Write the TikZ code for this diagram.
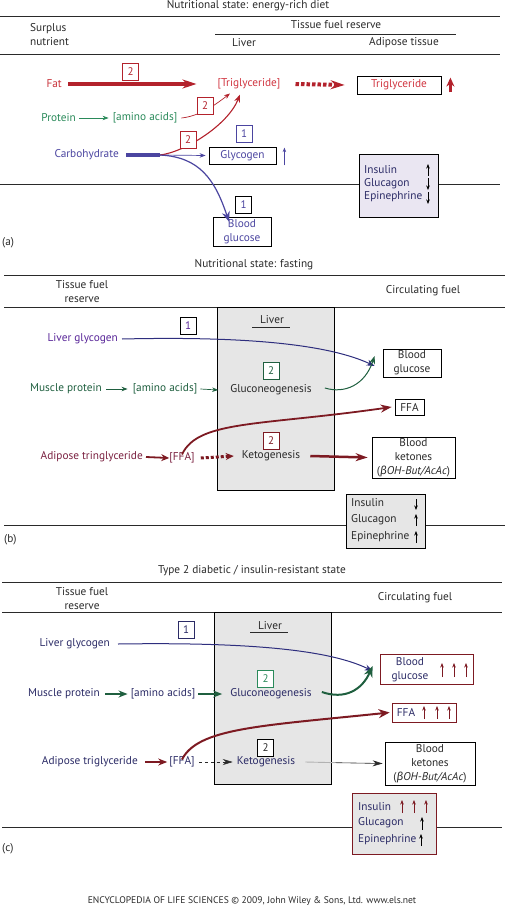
\documentclass[tikz,border=0pt]{standalone}
\usepackage{fontspec}
\setmainfont{PT Sans}
\newfontfamily\grk{Fira Sans}
\usetikzlibrary{arrows.meta,calc}
\definecolor{fatred}{HTML}{C8323A}
\definecolor{arred}{HTML}{B3222C}
\definecolor{tgred}{HTML}{D03540}
\definecolor{agreen}{HTML}{2A8A5A}
\definecolor{cblue}{HTML}{4B45A0}
\definecolor{navy}{HTML}{2B2B66}
\definecolor{bnavy}{HTML}{2E2E7E}
\definecolor{dgreen}{HTML}{1F5F3F}
\definecolor{dred}{HTML}{7D1A22}
\definecolor{maroon}{HTML}{7A2040}
\definecolor{lav}{HTML}{EAE6F2}
\definecolor{lgrey}{HTML}{E6E6E6}
\definecolor{txtc}{HTML}{2A2A2A}
\tikzset{
 txt/.style={inner sep=0pt, text=txtc, font=\fontsize{11.3}{13.5}\selectfont, align=center},
 numbox/.style={draw, fill=white, line width=0.7pt, minimum width=16pt, minimum height=17pt, inner sep=0pt, font=\fontsize{11}{12}\selectfont},
 fbox/.style={draw, line width=0.8pt, inner sep=0pt, align=center, text=txtc, font=\fontsize{11.3}{14}\selectfont},
 rule/.style={line width=0.8pt, txtc},
 ind/.style={-{Stealth[length=4.5pt,width=3.5pt]}, line width=0.6pt},
 thin arr/.style={-{Stealth[length=6pt,width=4.5pt]}, line width=0.7pt},
 mid arr/.style={-{Stealth[length=9pt,width=7pt]}, line width=2pt},
 big arr/.style={-{Stealth[length=14pt,width=9pt]}, line width=4.5pt},
}
\begin{document}
\begin{tikzpicture}[x=1pt,y=-1pt]
\useasboundingbox (0,0) rectangle (505,907);
% ================= panel (a)
\node[txt] (ta) at (248,6) {Nutritional state: energy-rich diet};
\draw[rule] (0,16) -- (500,16);
\node[txt, anchor=west, align=left] (surplus) at (30,34.5) {Surplus\\nutrient};
\node[txt] (tfr) at (336,25) {Tissue fuel reserve};
\draw[rule] (215,34) -- (456,34);
\node[txt] (liverA) at (244,43) {Liver};
\node[txt] (adipA) at (404,43) {Adipose tissue};
\draw[rule] (0,54) -- (500,54);
\draw[rule] (0,184) -- (500,184);

\node[txt, text=fatred, anchor=east] (fat) at (62,84) {Fat};
\node[txt, text=tgred] (tgl) at (249,84) {[Triglyceride]};
\node[fbox, text=tgred, minimum width=84pt, minimum height=18pt] (tgA) at (399,85) {Triglyceride};
\draw[big arr, arred] ([xshift=6pt]fat.east) -- ([xshift=-21pt]tgl.west);
\node[numbox, draw=arred, text=arred] (n2fat) at (130.5,71.5) {2};
\draw[big arr, arred, line width=4pt, dash pattern=on 3.5pt off 2pt] ([xshift=15pt]tgl.east) -- ([xshift=-12pt]tgA.west);
\draw[arred, line width=2.6pt, -{Stealth[length=9pt,width=8pt]}] ([xshift=9pt,yshift=2pt]tgA.south east) -- ([xshift=9pt,yshift=-2pt]tgA.north east);

\node[txt, text=agreen, anchor=east] (prot) at (76,118) {Protein};
\node[txt, text=agreen] (aaA) at (145,118) {[amino acids]};
\draw[thin arr, agreen, line width=0.6pt] ([xshift=3pt]prot.east) -- ([xshift=-4pt]aaA.west);
\coordinate (tip1) at ($(tgl.south)+(-19,4)$);
\draw[thin arr, arred] ([xshift=4pt]aaA.east) .. controls (200,116) and (215,105) .. (tip1);
\node[numbox, draw=arred, text=arred] (n2aa) at (205,106) {2};

\node[txt, text=cblue, anchor=east] (carb) at (119,155) {Carbohydrate};
\coordinate (split) at (160,155);
\draw[cblue, line width=4pt] ([xshift=7pt]carb.east) -- (split);
\node[fbox, text=cblue, minimum width=67pt, minimum height=17pt] (glyc) at (242.5,155.5) {Glycogen};
\node[numbox, draw=cblue, text=cblue] (n1g) at (244,133.5) {1};
\draw[thin arr, cblue] (split) -- ([xshift=-3pt]glyc.west);
\draw[ind, cblue, line width=0.7pt] ([xshift=8pt,yshift=-1pt]glyc.south east) -- ([xshift=8pt,yshift=-1pt]glyc.north east);
\coordinate (tip2) at ($(tgl.south)+(-9,5)$);
\draw[arred, line width=1.1pt, -{Stealth[length=8pt,width=6pt]}] (split) .. controls (185,152) and (228,125) .. (tip2);
\node[numbox, draw=arred, text=arred] (n2c) at (188,139.5) {2};
\node[fbox, text=cblue, minimum width=58pt, minimum height=29pt] (bgA) at (242,231.5) {Blood\\glucose};
\node[numbox, text=cblue] (n1b) at (243.5,204.5) {1};
\draw[cblue, line width=1.2pt, -{Stealth[length=10pt,width=8pt]}] (split) .. controls (200,157) and (215,180) .. ([xshift=-13pt,yshift=-5pt]bgA.north);

\node[draw, line width=0.8pt, fill=lav, minimum width=79pt, minimum height=63pt] (hA) at (398.5,185.5) {};
\node[txt, text=navy, anchor=west] (insA) at (364,170) {Insulin};
\node[txt, text=navy, anchor=west] (glcA) at (364,183.5) {Glucagon};
\node[txt, text=navy, anchor=west] (epiA) at (364,197) {Epinephrine};
\draw[ind] (428,176) -- (428,164);
\draw[ind] (428,178) -- (428,190);
\draw[ind] (428,192) -- (428,204);
\node[txt, anchor=west] (la) at (2,243) {(a)};

% ================= panel (b)
\node[txt] (tb) at (254,265) {Nutritional state: fasting};
\draw[rule] (4,275) -- (505,275);
\node[txt] (tfrB) at (82,291.5) {Tissue fuel\\reserve};
\node[txt] (cfB) at (423,291) {Circulating fuel};
\draw[rule] (4,307) -- (505,307);
\draw[rule] (4,525) -- (505,525);
\node[draw, line width=0.8pt, fill=lgrey, minimum width=117pt, minimum height=183pt] (liverB) at (275.5,398.5) {};
\node[txt] (lvB) at (272,320) {Liver};
\draw[rule] (252,327) -- (290,327);

\node[txt, text=bnavy!80!magenta, anchor=east] (lgB) at (118,339) {Liver glycogen};
\node[fbox, minimum width=58pt, minimum height=28pt] (bgB) at (412,363) {Blood\\glucose};
\draw[bnavy, line width=1pt, -{Stealth[length=8pt,width=6pt]}] ([xshift=4pt]lgB.east) .. controls (250,336) and (330,345) .. ([xshift=-8pt,yshift=-3pt]bgB.west);
\node[numbox, text=bnavy!80!magenta] (n1B) at (188,325.5) {1};

\node[txt, text=dgreen, anchor=east] (mpB) at (102,389) {Muscle protein};
\node[txt, text=dgreen] (aaB) at (165,389) {[amino acids]};
\node[txt] (gngB) at (271,390) {Gluconeogenesis};
\draw[thin arr, dgreen] ([xshift=4pt]mpB.east) -- ([xshift=-5pt]aaB.west);
\draw[thin arr, dgreen] ([xshift=3pt]aaB.east) -- ([xshift=-12pt]gngB.west);
\node[numbox, draw=dgreen, text=dgreen] (n2B) at (271,371) {2};
\draw[dgreen, line width=1pt, -{Stealth[length=8pt,width=6pt]}] ([xshift=13pt,yshift=2pt]gngB.east) .. controls (345,394) and (365,385) .. ([xshift=-8pt,yshift=7pt]bgB.west);

\node[fbox, minimum width=29pt, minimum height=16pt] (ffaB) at (409.5,407) {FFA};
\node[txt, text=maroon, anchor=east] (atB) at (143,457) {Adipose tringlyceride};
\node[txt, text=maroon] (ffB) at (182,458) {[FFA]};
\node[txt] (ketB) at (271,456) {Ketogenesis};
\node[numbox, draw=dred, text=dred] (n2kB) at (271,440.5) {2};
\draw[dred, line width=1.8pt, -{Stealth[length=8pt,width=7pt]}] ([xshift=3pt]atB.east) -- (ffB.west);
\draw[dred, line width=3pt, dash pattern=on 3pt off 2pt, -{Stealth[length=8pt,width=7pt]}] ([xshift=6pt]ffB.east) -- ([xshift=-8pt]ketB.west);
\draw[dred, line width=1.8pt, -{Stealth[length=11pt,width=8pt]}] ([yshift=-2pt]ffB.north) .. controls (198,420) and (260,426) .. ([xshift=-3pt]ffaB.west);
\node[fbox, minimum width=83pt, minimum height=41pt] (bkB) at (413.5,457.5) {Blood\\ketones\\(\textit{{\grk β}OH-But/AcAc})};
\draw[dred, line width=2.5pt, -{Stealth[length=12pt,width=8pt]}] ([xshift=10pt]ketB.east) -- ([xshift=-4pt]bkB.west);

\node[draw, line width=0.8pt, fill=lgrey, minimum width=79pt, minimum height=54pt] (hB) at (385.5,521) {};
\node[txt, anchor=west] (insB) at (351,503) {Insulin};
\node[txt, anchor=west] (glcB) at (351,520) {Glucagon};
\node[txt, anchor=west] (epiB) at (351,537) {Epinephrine};
\draw[ind] (416,499) -- (416,510);
\draw[ind] (416,526) -- (416,514);
\draw[ind] (416,543) -- (416,531);
\node[txt, anchor=west] (lb) at (4,540) {(b)};

% ================= panel (c)
\node[txt] (tc) at (252,571) {Type 2 diabetic / insulin-resistant state};
\draw[rule] (2,582) -- (502,582);
\node[txt] (tfrC) at (82,598.5) {Tissue fuel\\reserve};
\node[txt] (cfC) at (415,598) {Circulating fuel};
\draw[rule] (2,612) -- (502,612);
\draw[rule] (2,827) -- (502,827);
\node[draw, line width=0.8pt, fill=lgrey, minimum width=117pt, minimum height=172pt] (liverC) at (272.5,698) {};
\node[txt] (lvC) at (270,626) {Liver};
\draw[rule] (250,632) -- (288,632);

\node[txt, text=navy, anchor=east] (lgC) at (110,644) {Liver glycogen};
\node[fbox, draw=dred, minimum width=93pt, minimum height=30pt] (bgC) at (426.5,669) {};
\node[txt, text=navy] (bgCt) at (410,669.5) {Blood\\glucose};
\draw[ind, dred] (442,677) -- (442,663);
\draw[ind, dred] (454,677) -- (454,663);
\draw[ind, dred] (466,677) -- (466,663);
\draw[bnavy, line width=1pt, -{Stealth[length=8pt,width=6pt]}] ([xshift=8pt]lgC.east) .. controls (250,642) and (330,650) .. ([xshift=-7pt,yshift=-2pt]bgC.west);
\node[numbox, draw=navy, text=navy] (n1C) at (186,630) {1};

\node[txt, text=navy, anchor=east] (mpC) at (100,694) {Muscle protein};
\node[txt, text=navy] (aaC) at (163,694) {[amino acids]};
\node[txt, text=navy] (gngC) at (271,694) {Gluconeogenesis};
\draw[mid arr, dgreen] ([xshift=5pt]mpC.east) -- ([xshift=-3pt]aaC.west);
\draw[mid arr, dgreen] ([xshift=3pt]aaC.east) -- ([xshift=-8pt]gngC.west);
\node[numbox, draw=agreen, text=agreen] (n2C) at (265.5,679) {2};
\draw[dgreen, line width=2pt, -{Stealth[length=11pt,width=9pt]}] ([xshift=10pt,yshift=2pt]gngC.east) .. controls (345,700) and (362,690) .. ([xshift=-7pt,yshift=3pt]bgC.west);

\node[fbox, draw=dred, minimum width=64pt, minimum height=19pt] (ffaC) at (424,712.5) {};
\node[txt, text=navy] (ffaCt) at (406,712.5) {FFA};
\draw[ind, dred] (424,719) -- (424,706);
\draw[ind, dred] (437,719) -- (437,706);
\draw[ind, dred] (449,719) -- (449,706);

\node[txt, text=navy, anchor=east] (atC) at (138,762) {Adipose triglyceride};
\node[txt, text=navy] (ffC) at (182,762) {[FFA]};
\node[txt, text=navy] (ketC) at (266,762) {Ketogenesis};
\node[numbox, text=txtc] (n2kC) at (265.5,747.5) {2};
\draw[dred, line width=2pt, -{Stealth[length=9pt,width=7pt]}] ([xshift=7pt]atC.east) -- ([xshift=-2pt]ffC.west);
\draw[txtc, line width=0.6pt, dashed, -{Stealth[length=10pt,width=6pt]}] ([xshift=4pt]ffC.east) -- ([xshift=-4pt]ketC.west);
\draw[dred, line width=2pt, -{Stealth[length=11pt,width=9pt]}] ([yshift=-3pt]ffC.north) .. controls (198,728) and (260,726) .. ([xshift=-2pt]ffaC.west);
\node[fbox, minimum width=90pt, minimum height=43pt] (bkC) at (430,763.5) {Blood\\ketones\\(\textit{{\grk β}OH-But/AcAc})};
\coordinate (kmid) at ($(ketC.east)!0.45!(bkC.west)$);
\draw[gray!60, line width=0.9pt] ([xshift=10pt]ketC.east) -- (kmid);
\draw[txtc, line width=0.6pt, -{Stealth[length=10pt,width=6pt]}] (kmid) -- ([xshift=-2pt]bkC.west);

\node[draw=dred, line width=0.8pt, fill=lgrey, minimum width=84pt, minimum height=61pt] (hC) at (394,823.5) {};
\node[txt, text=navy, anchor=west] (insC) at (358,807) {Insulin};
\node[txt, text=navy, anchor=west] (glcC) at (358,823) {Glucagon};
\node[txt, text=navy, anchor=west] (epiC) at (358,840) {Epinephrine};
\draw[ind, dred] (402,813) -- (402,800);
\draw[ind, dred] (414,813) -- (414,800);
\draw[ind, dred] (426,813) -- (426,800);
\draw[ind] (422,830) -- (422,817);
\draw[ind] (421,846) -- (421,834);
\node[txt, anchor=west] (lc) at (2,849) {(c)};

\node[txt, font=\fontsize{9.6}{11}\selectfont] (foot) at (252,901) {ENCYCLOPEDIA OF LIFE SCIENCES \textcopyright{} 2009, John Wiley \& Sons, Ltd. www.els.net};
\end{tikzpicture}
\end{document}
